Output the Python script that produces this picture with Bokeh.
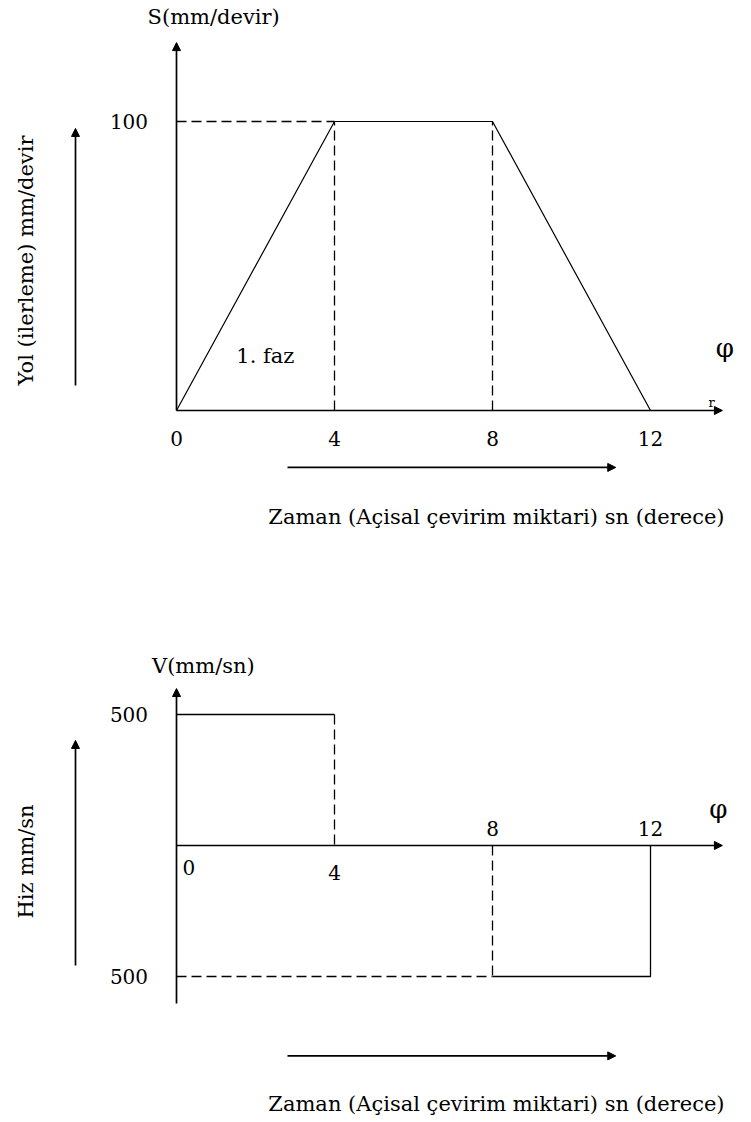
from bokeh.plotting import figure
from bokeh.models import Range1d, Arrow, NormalHead
from bokeh.layouts import column
from bokeh.core.properties import value
from bokeh.embed import file_html
from bokeh.resources import INLINE
import math

# ---- data ----
phase_t = [0, 4, 8, 12]            # time marks (sn)
S_vals = [0, 100, 100, 0]          # displacement (mm/devir)
S_max = 100
V_top = 500
V_bot = -500
tick_labels_top = ["0", "4", "8", "12"]

FONT = value("DejaVu Serif")
FS_NUM = "20px"
FS_TXT = "21px"
BLACK = "black"

X_RANGE = (-4.4557, 14.405)


def base_fig(h, yr):
    p = figure(width=745, height=h, x_range=Range1d(*X_RANGE), y_range=Range1d(*yr),
               output_backend="svg", toolbar_location=None,
               x_axis_location=None, y_axis_location=None,
               min_border=0, min_border_left=0, min_border_right=0,
               min_border_top=0, min_border_bottom=0)
    p.grid.visible = False
    p.outline_line_color = None
    p.background_fill_color = "white"
    p.border_fill_color = "white"
    return p


def arrow(p, x0, y0, x1, y1, lw=1.7):
    p.add_layout(Arrow(end=NormalHead(size=8, fill_color=BLACK, line_color=BLACK),
                       x_start=x0, y_start=y0, x_end=x1, y_end=y1,
                       line_width=lw, line_color=BLACK))


def txt(p, x, y, s, align="center", baseline="middle", size=FS_TXT, angle=0.0):
    p.text(x=[x], y=[y], text=[s], text_font=FONT, text_font_size=size,
           text_align=align, text_baseline=baseline, text_color=BLACK, angle=angle)


# ================= top panel: S (displacement) =================
p1 = base_fig(558, (-51.21, 141.87))

arrow(p1, 0, 0, 13.82, 0)
arrow(p1, 0, 0, 0, 127.3)

p1.line([phase_t[0], phase_t[1]], [S_max, S_max], line_dash="10 5", line_color=BLACK, line_width=1.3)
p1.line([phase_t[1], phase_t[1]], [0, S_max], line_dash="10 5", line_color=BLACK, line_width=1.3)
p1.line([phase_t[2], phase_t[2]], [0, S_max], line_dash="10 5", line_color=BLACK, line_width=1.3)

p1.line(phase_t, S_vals, line_color=BLACK, line_width=1.2)

for t, lab in zip(phase_t, tick_labels_top):
    txt(p1, t, -9.7, lab, size=FS_NUM)
txt(p1, -0.72, S_max, str(S_max), align="right", size=FS_NUM)
txt(p1, 0.94, 136.0, "S(mm/devir)")
txt(p1, 2.25, 19.0, "1. faz")
txt(p1, 13.88, 21.5, "φ", size="26px")
txt(p1, 13.55, 2.6, "r", size="13px")

arrow(p1, -2.557, 8.65, -2.557, 97.6)
txt(p1, -3.82, 51.9, "Yol (ilerleme) mm/devir", angle=math.pi / 2)
arrow(p1, 2.81, -19.7, 11.12, -19.7)
txt(p1, 8.10, -37.0, "Zaman (Açisal çevirim miktari) sn (derece)")

# ================= bottom panel: V (velocity) =================
p2 = base_fig(560, (-1042.0, 1095.4))

arrow(p2, 0, 0, 13.82, 0)
arrow(p2, 0, -603, 0, 599)

p2.line([phase_t[0], phase_t[1]], [V_top, V_top], line_color=BLACK, line_width=1.3)
p2.line([phase_t[1], phase_t[1]], [V_top, 0], line_dash="10 5", line_color=BLACK, line_width=1.3)
p2.line([phase_t[0], phase_t[2]], [V_bot, V_bot], line_dash="10 5", line_color=BLACK, line_width=1.3)
p2.line([phase_t[2], phase_t[2]], [0, V_bot], line_dash="10 5", line_color=BLACK, line_width=1.3)
p2.line([phase_t[2], phase_t[3], phase_t[3]], [V_bot, V_bot, 0], line_color=BLACK, line_width=1.3)

txt(p2, 0.15, -84, "0", align="left", size=FS_NUM)
txt(p2, 4, -103, "4", size=FS_NUM)
txt(p2, 8, 65, "8", size=FS_NUM)
txt(p2, 12, 65, "12", size=FS_NUM)
txt(p2, -0.72, V_top, str(V_top), align="right", size=FS_NUM)
txt(p2, -0.72, V_bot, str(abs(V_bot)), align="right", size=FS_NUM)
txt(p2, 0.68, 687, "V(mm/sn)")
txt(p2, 13.72, 141, "φ", size="26px")

arrow(p2, -2.557, -458, -2.557, 401)
txt(p2, -3.82, -61, "Hiz mm/sn", angle=math.pi / 2)
arrow(p2, 2.81, -803, 11.12, -803)
txt(p2, 8.10, -988, "Zaman (Açisal çevirim miktari) sn (derece)")

layout = column(p1, p2, spacing=0)
open("out.html", "w").write(file_html(layout, INLINE))
